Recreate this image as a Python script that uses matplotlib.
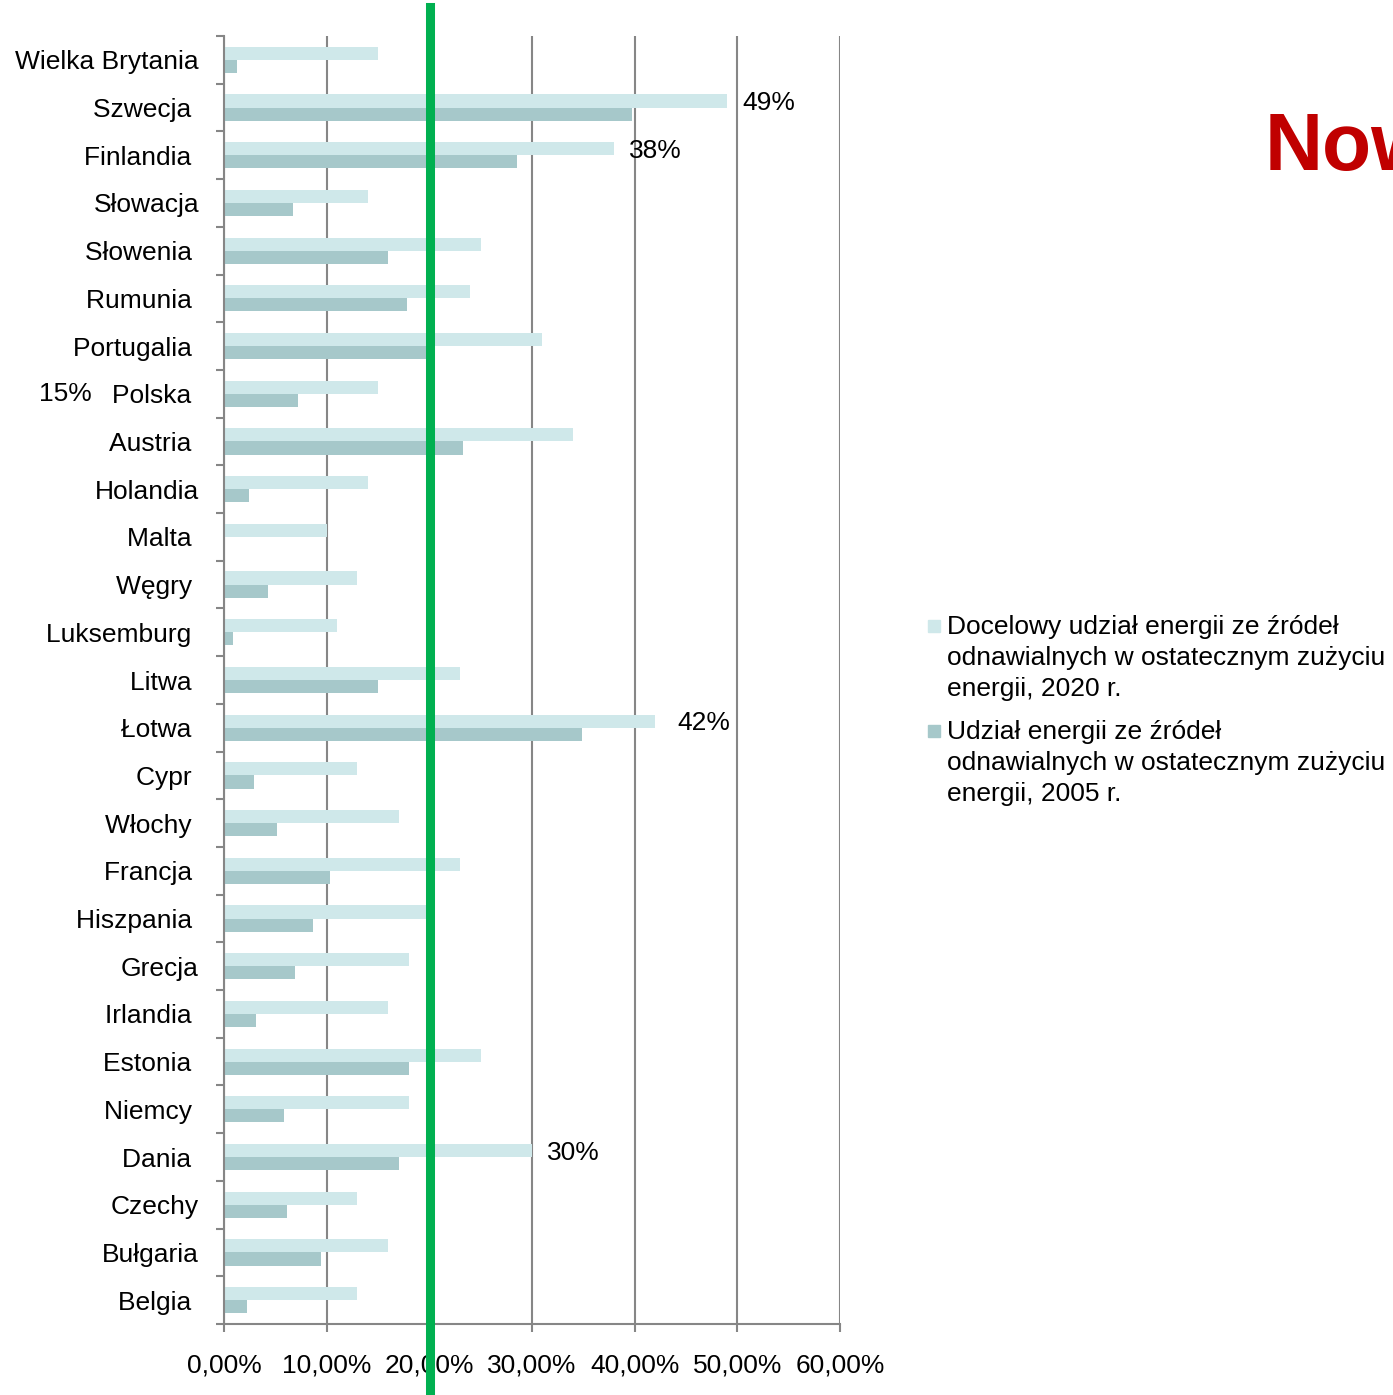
import numpy as np
import matplotlib
matplotlib.use("Agg")
import matplotlib.pyplot as plt
from matplotlib.patches import Rectangle
from matplotlib.ticker import FuncFormatter

plt.rcParams['font.family'] = ['Liberation Sans', 'DejaVu Sans']

# bottom -> top
countries = ['Belgia', 'Bułgaria', 'Czechy', 'Dania', 'Niemcy', 'Estonia', 'Irlandia',
             'Grecja', 'Hiszpania', 'Francja', 'Włochy', 'Cypr', 'Łotwa', 'Litwa',
             'Luksemburg', 'Węgry', 'Malta', 'Holandia', 'Austria', 'Polska',
             'Portugalia', 'Rumunia', 'Słowenia', 'Słowacja', 'Finlandia', 'Szwecja',
             'Wielka Brytania']
target_2020 = [13, 16, 13, 30, 18, 25, 16, 18, 20, 23, 17, 13, 42, 23,
               11, 13, 10, 14, 34, 15, 31, 24, 25, 14, 38, 49, 15]
share_2005 = [2.2, 9.4, 6.1, 17.0, 5.8, 18.0, 3.1, 6.9, 8.7, 10.3, 5.2, 2.9, 34.9, 15.0,
              0.9, 4.3, 0.0, 2.4, 23.3, 7.2, 20.5, 17.8, 16.0, 6.7, 28.5, 39.7, 1.3]
labelled = {'Szwecja': '49%', 'Finlandia': '38%', 'Łotwa': '42%', 'Dania': '30%'}
label_padded = {'Wielka Brytania', 'Słowacja', 'Holandia', 'Grecja', 'Czechy', 'Bułgaria'}
legend_labels = ['Docelowy udział energii ze źródeł\nodnawialnych w ostatecznym zużyciu\nenergii, 2020 r.',
                 'Udział energii ze źródeł\nodnawialnych w ostatecznym zużyciu\nenergii, 2005 r.']
polska_target = '15%'
threshold = 20.1

c_light = '#cfe8ea'
c_dark = '#a6c8ca'
grey = '#868686'
fs = 19

fig = plt.figure(figsize=(13.93, 13.95), dpi=100)
ax = fig.add_axes([224 / 1393, 1 - 1324 / 1395, 616 / 1393, 1288 / 1395])

y = np.arange(len(countries))
h = 0.275
ax.barh(y + h / 2, target_2020, height=h, color=c_light, zorder=2)
ax.barh(y - h / 2, share_2005, height=h, color=c_dark, zorder=2)

ax.set_xlim(0, 60)
ax.set_ylim(-0.5, len(countries) - 0.5)
ax.set_xticks(np.arange(0, 61, 10))
ax.xaxis.set_major_formatter(FuncFormatter(lambda v, p: f'{v:.2f}%'.replace('.', ',')))
ax.grid(axis='x', color=grey, linewidth=1.5, zorder=1)
ax.set_axisbelow(True)

ax.set_yticks(np.arange(len(countries) + 1) - 0.5)
ax.set_yticklabels([])
ax.set_yticks(y, minor=True)
ax.set_yticklabels([c if c in label_padded else c + ' ' for c in countries], minor=True)
ax.tick_params(axis='y', which='minor', length=0, pad=18, labelsize=fs)
ax.tick_params(axis='y', which='major', length=6, width=1.5, color=grey)
ax.tick_params(axis='x', length=6, width=1.5, color=grey, pad=15, labelsize=fs)

for s in ['top', 'right']:
    ax.spines[s].set_visible(False)
for s in ['left', 'bottom']:
    ax.spines[s].set_color(grey)
    ax.spines[s].set_linewidth(1.5)

for i, c in enumerate(countries):
    if c in labelled:
        off = 16 if c == 'Łotwa' else 11
        ax.annotate(labelled[c], xy=(target_2020[i], i + h / 2), xytext=(off, -1.5),
                    textcoords='offset points', va='center', ha='left', fontsize=fs)

pi = countries.index('Polska')
ax.annotate(polska_target, xy=(0, pi), xytext=(-95, 0), textcoords='offset points',
            va='center', ha='right', fontsize=fs, annotation_clip=False)

# green threshold line
ax.plot([threshold, threshold], [-0.056, 1.0225], color='#00b050', linewidth=6.5,
        transform=ax.get_xaxis_transform(), clip_on=False, zorder=5)

# legend, drawn by hand so the square sits on the first line
leg_colors = [c_light, c_dark]
leg_tops = [626, 731]
for col, lab, ty in zip(leg_colors, legend_labels, leg_tops):
    fig.patches.append(Rectangle((928 / 1393, 1 - (ty + 6) / 1395), 12 / 1393, 12 / 1395,
                                 transform=fig.transFigure, color=col))
    fig.text(947 / 1393, 1 - (ty - 11) / 1395, lab, fontsize=fs, va='top', ha='left',
             linespacing=1.38)

fig.text(1265 / 1393, 1 - 170 / 1395, 'Now', fontsize=58, fontweight='bold',
         color='#c00000', ha='left', va='baseline')

fig.savefig('out.png', dpi=100)
